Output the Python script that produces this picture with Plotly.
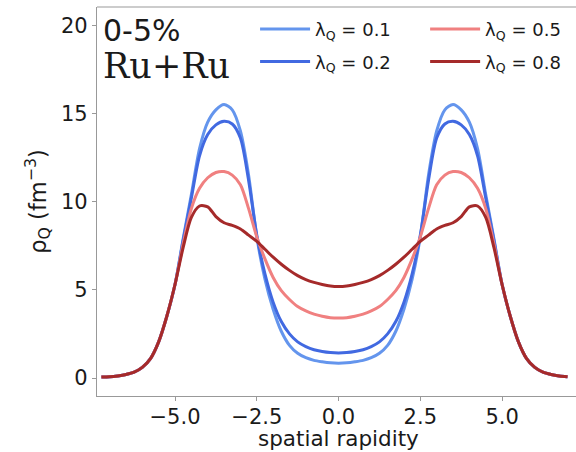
import plotly.graph_objects as go

# spatial rapidity grid
eta = [-7.25, -7.0, -6.75, -6.5, -6.25, -6.0, -5.75, -5.5, -5.25, -5.0,
       -4.75, -4.5, -4.25, -4.0, -3.75, -3.5, -3.25, -3.0, -2.75, -2.5,
       -2.25, -2.0, -1.75, -1.5, -1.25, -1.0, -0.75, -0.5, -0.25, 0.0,
       0.25, 0.5, 0.75, 1.0, 1.25, 1.5, 1.75, 2.0, 2.25, 2.5,
       2.75, 3.0, 3.25, 3.5, 3.75, 4.0, 4.25, 4.5, 4.75, 5.0,
       5.25, 5.5, 5.75, 6.0, 6.25, 6.5, 6.75, 7.0]

rho_01 = [0.05, 0.07, 0.12, 0.2, 0.33, 0.6, 1.1, 2.05, 3.5, 5.3,
          7.9, 10.4, 13.0, 14.5, 15.2, 15.5, 15.2, 14.0, 11.5, 8.0,
          5.6, 3.9, 2.65, 1.85, 1.4, 1.15, 1.0, 0.92, 0.86, 0.84,
          0.86, 0.92, 1.0, 1.15, 1.4, 1.85, 2.65, 3.9, 5.6, 8.0,
          11.5, 14.0, 15.2, 15.5, 15.2, 14.5, 13.0, 10.4, 7.9, 5.3,
          3.5, 2.05, 1.1, 0.6, 0.33, 0.2, 0.12, 0.07]

rho_02 = [0.05, 0.07, 0.12, 0.2, 0.33, 0.6, 1.1, 2.05, 3.5, 5.3,
          7.8, 10.2, 12.6, 13.8, 14.35, 14.55, 14.4, 13.6, 11.2, 8.1,
          5.9, 4.3, 3.2, 2.5, 2.05, 1.78, 1.6, 1.5, 1.44, 1.42,
          1.44, 1.5, 1.6, 1.78, 2.05, 2.5, 3.2, 4.3, 5.9, 8.1,
          11.2, 13.6, 14.4, 14.55, 14.35, 13.8, 12.6, 10.2, 7.8, 5.3,
          3.5, 2.05, 1.1, 0.6, 0.33, 0.2, 0.12, 0.07]

rho_05 = [0.05, 0.07, 0.12, 0.2, 0.33, 0.6, 1.1, 2.05, 3.5, 5.3,
          7.6, 9.6, 10.75, 11.35, 11.65, 11.7, 11.5, 10.95, 9.6, 8.0,
          6.75, 5.7, 4.95, 4.45, 4.05, 3.8, 3.62, 3.5, 3.42, 3.4,
          3.42, 3.5, 3.62, 3.8, 4.05, 4.45, 4.95, 5.7, 6.75, 8.0,
          9.6, 10.95, 11.5, 11.7, 11.65, 11.35, 10.75, 9.6, 7.6, 5.3,
          3.5, 2.05, 1.1, 0.6, 0.33, 0.2, 0.12, 0.07]

rho_08 = [0.05, 0.07, 0.12, 0.2, 0.33, 0.6, 1.1, 2.05, 3.5, 5.3,
          7.4, 9.1, 9.75, 9.7, 9.15, 8.8, 8.65, 8.45, 8.1, 7.75,
          7.3, 6.85, 6.45, 6.1, 5.8, 5.58, 5.42, 5.3, 5.21, 5.18,
          5.21, 5.3, 5.42, 5.58, 5.8, 6.1, 6.45, 6.85, 7.3, 7.75,
          8.1, 8.45, 8.65, 8.8, 9.15, 9.7, 9.75, 9.1, 7.4, 5.3,
          3.5, 2.05, 1.1, 0.6, 0.33, 0.2, 0.12, 0.07]

labels = ["λ<sub>Q</sub> = 0.1", "λ<sub>Q</sub> = 0.2",
          "λ<sub>Q</sub> = 0.5", "λ<sub>Q</sub> = 0.8"]
colors = ["#6495ED", "#4169E1", "#F08080", "#A52A2A"]
series = [rho_01, rho_02, rho_05, rho_08]
legends = ["legend", "legend", "legend2", "legend2"]

x_ticks = [-5.0, -2.5, 0.0, 2.5, 5.0]
x_ticktext = ["−5.0", "−2.5", "0.0", "2.5", "5.0"]
y_ticks = [0, 5, 10, 15, 20]

FONT = "DejaVu Sans"
TXT = "#1a1a1a"
AX = "#999999"

fig = go.Figure()
for i, (ys, name, c, lg) in enumerate(zip(series, labels, colors, legends)):
    fig.add_trace(go.Scatter(
        x=eta, y=ys, mode="lines", name=name, legend=lg,
        legendgroup=f"g{i}",
        line=dict(color=c, width=3, shape="spline", smoothing=0.8),
    ))

legend_common = dict(
    font=dict(family=FONT, size=18, color=TXT),
    bgcolor="rgba(0,0,0,0)", borderwidth=0,
    orientation="v", tracegroupgap=6, itemwidth=50,
    xanchor="left", yanchor="top",
)

fig.update_layout(
    width=576, height=452,
    margin=dict(l=97, r=0, t=7, b=56, autoexpand=False),
    paper_bgcolor="white", plot_bgcolor="white",
    showlegend=True,
    legend=dict(x=0.33, y=0.99, **legend_common),
    legend2=dict(x=0.685, y=0.99, **legend_common),
    xaxis=dict(
        range=[-7.385, 7.26], tickvals=x_ticks, ticktext=x_ticktext,
        automargin=False, ticklabelstandoff=-2,
        showgrid=False, zeroline=False, showline=True, linecolor=AX,
        linewidth=1.2, ticks="outside", ticklen=4, tickcolor=AX,
        tickfont=dict(family=FONT, size=21, color=TXT),
    ),
    yaxis=dict(
        range=[-1.02, 21.03], tickvals=y_ticks,
        automargin=False,
        showgrid=False, zeroline=False, showline=True, linecolor=AX,
        linewidth=1.2, ticks="outside", ticklen=4, tickcolor=AX,
        tickfont=dict(family=FONT, size=21, color=TXT),
        title=dict(text="ρ<sub>Q</sub> (fm<sup>−3</sup>)", standoff=8,
                   font=dict(family=FONT, size=22.5, color=TXT)),
    ),
    shapes=[dict(type="line", xref="paper", yref="paper", x0=0, x1=1,
                 y0=1, y1=1, line=dict(color=AX, width=1.2))],
    annotations=[
        dict(text="spatial rapidity", xref="x", yref="paper", x=0.0,
             y=-0.1435, xanchor="center", yanchor="bottom", showarrow=False,
             borderpad=0,
             font=dict(family=FONT, size=21.5, color=TXT)),
        dict(text="0-5%", xref="paper", yref="paper", x=0.008, y=0.99,
             xanchor="left", yanchor="top", showarrow=False,
             font=dict(family=FONT, size=30, color=TXT)),
        dict(text="Ru+Ru", xref="paper", yref="paper", x=0.008, y=0.905,
             xanchor="left", yanchor="top", showarrow=False,
             font=dict(family="DejaVu Serif", size=35, color=TXT)),
    ],
)

fig.write_html("out.html")
